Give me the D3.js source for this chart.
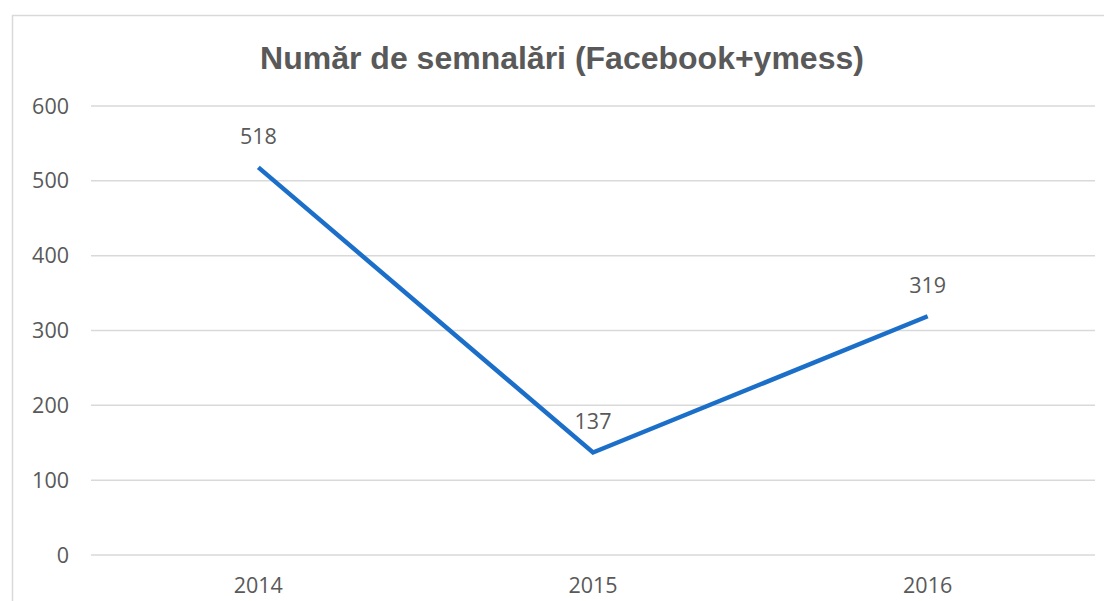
<!DOCTYPE html>
<html><head><meta charset="utf-8">
<script src="https://cdn.jsdelivr.net/npm/d3@7"></script>
<style>body{margin:0;background:#fff}svg{display:block}</style>
</head><body>
<svg id="c" width="1104" height="601"></svg>
<script>
const categories = ["2014","2015","2016"];
const values = [518,137,319];
const yTicks = [0,100,200,300,400,500,600];
const title = "Număr de semnalări (Facebook+ymess)";

const svg = d3.select("#c");
const W=1104,H=601;
const m={left:91,right:9,top:106,bottom:46};
// chart border
svg.append("rect").attr("x",12.5).attr("y",15.5).attr("width",1100).attr("height",600)
  .attr("fill","#fff").attr("stroke","#d9d9d9").attr("stroke-width",1.5);

const x=d3.scaleBand().domain(categories).range([m.left,W-m.right]);
const y=d3.scaleLinear().domain([0,600]).range([555,106]);
const txt="#595959";
const font="'Open Sans', 'Noto Sans', sans-serif";
const fs=21.5;

svg.append("g").selectAll("line").data(yTicks).join("line")
  .attr("x1",m.left).attr("x2",W-m.right)
  .attr("y1",d=>y(d)).attr("y2",d=>y(d))
  .attr("stroke","#d9d9d9").attr("stroke-width",1.5);

svg.append("g").selectAll("text").data(yTicks).join("text")
  .attr("x",69).attr("y",d=>y(d)).attr("dy","0.35em").attr("text-anchor","end")
  .attr("font-family",font).attr("font-size",fs).attr("fill",txt).text(d=>d);

svg.append("g").selectAll("text").data(categories).join("text")
  .attr("x",d=>x(d)+x.bandwidth()/2).attr("y",585).attr("dy","0.35em").attr("text-anchor","middle")
  .attr("font-family",font).attr("font-size",fs).attr("fill",txt).text(d=>d);

const line=d3.line().x((d,i)=>x(categories[i])+x.bandwidth()/2).y(d=>y(d));
svg.append("path").datum(values).attr("d",line).attr("fill","none")
  .attr("stroke","#1c6fc9").attr("stroke-width",4.5).attr("stroke-linejoin","miter");

svg.append("g").selectAll("text").data(values).join("text")
  .attr("x",(d,i)=>x(categories[i])+x.bandwidth()/2).attr("y",d=>y(d)-31).attr("dy","0.35em")
  .attr("text-anchor","middle").attr("font-family",font).attr("font-size",fs).attr("fill",txt).text(d=>d);

svg.append("text").attr("x",562).attr("y",58).attr("dy","0.35em").attr("text-anchor","middle")
  .attr("font-family","'Liberation Sans', Arial, sans-serif").attr("font-weight","bold")
  .attr("font-size",32).attr("fill",txt).text(title);
</script>
</body></html>
